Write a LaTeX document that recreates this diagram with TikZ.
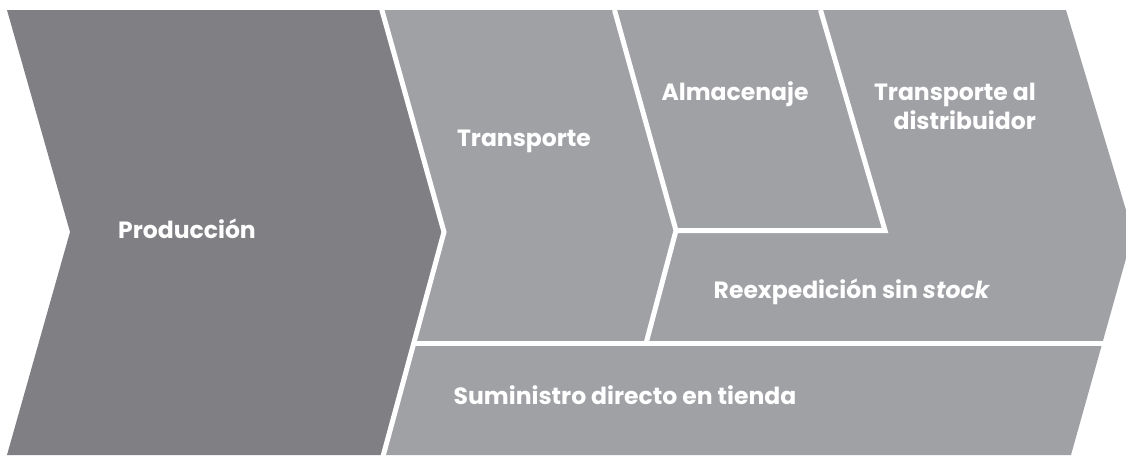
\documentclass[tikz,border=0pt]{standalone}
\usepackage{fontspec}
\setmainfont{Poppins}[BoldFont={* Bold},ItalicFont={* Italic},BoldItalicFont={* Bold Italic}]
\definecolor{darkgr}{RGB}{128,127,132}
\definecolor{lightgr}{RGB}{160,161,165}
\tikzset{
  sep/.style={draw=white,line width=5pt,line join=miter},
  lbl/.style={text=white,font=\fontsize{23.5}{29}\selectfont\bfseries,inner sep=0pt}
}
\begin{document}
\begin{tikzpicture}[x=1pt,y=-1pt]
\useasboundingbox (0,0) rectangle (1126,455);
\clip (0,0) rectangle (1126,455);
% light region
\fill[lightgr] (380,10) -- (1066,10) -- (1133,233.5) -- (1071,455) -- (382,455) -- (444,232) -- cycle;
% produccion chevron
\fill[darkgr] (7,10) -- (380,10) -- (444,232) -- (382,455) -- (7,455) -- (70,232) -- cycle;
% separators
\coordinate (h1) at (413,343.5);
\coordinate (h2) at (1140,343.5);
\draw[sep] (h1) -- (h2);
\coordinate (t1) at (614.5,10);
\coordinate (t2) at (676,230.5);
\coordinate (t3) at (646,343.5);
\draw[sep] (t1) -- (t2) -- (t3);
\coordinate (a1) at (820.5,10);
\coordinate (a2) at (885,230.5);
\draw[sep] (t2) -- (a2) -- (a1);
\coordinate (p1) at (380.5,5);
\coordinate (p2) at (444,232);
\coordinate (p3) at (382,460);
\draw[sep] (p1) -- (p2) -- (p3);
% labels
\node[lbl,anchor=base] (prod) at (187,238) {Producción};
\node[lbl,anchor=base] (trans) at (524,146) {Transporte};
\node[lbl,anchor=base] (alm) at (735,100) {Almacenaje};
\node[lbl,anchor=north east,align=right] (dist) at (1036,83) {Transporte al\\distribuidor};
\node[lbl,anchor=base] (reex) at (852,298) {Reexpedición sin \textit{stock}};
\node[lbl,anchor=base] (sumi) at (625,404) {Suministro directo en tienda};
\end{tikzpicture}
\end{document}
